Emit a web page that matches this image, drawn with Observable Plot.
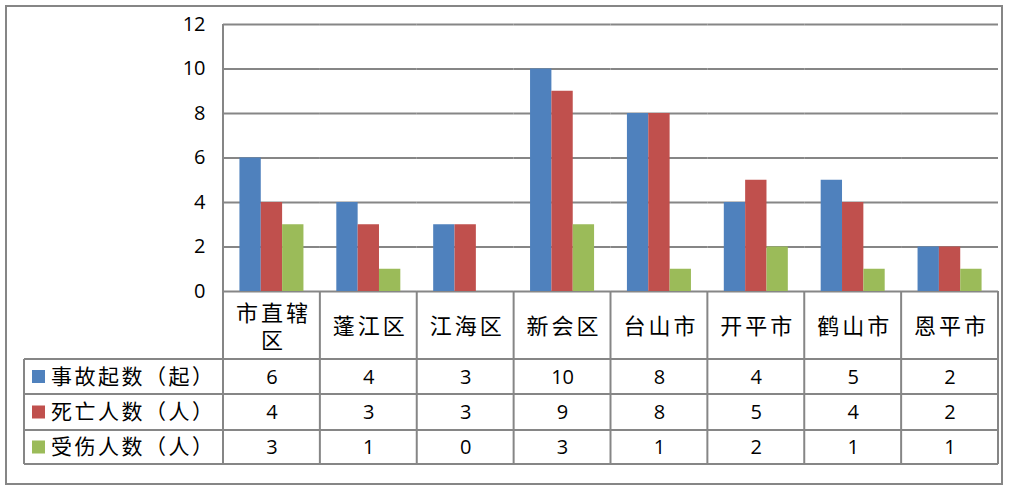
<!DOCTYPE html>
<html><head><meta charset="utf-8">
<script src="https://cdn.jsdelivr.net/npm/d3@7"></script>
<script src="https://cdn.jsdelivr.net/npm/@observablehq/plot@0.6"></script>
<style>
body{margin:0;background:#fff;}
#chart{width:1010px;height:490px;}
</style></head><body><div id="chart"></div>
<script>
const categories = ["市直辖区","蓬江区","江海区","新会区","台山市","开平市","鹤山市","恩平市"];
const seriesNames = ["事故起数（起）","死亡人数（人）","受伤人数（人）"];
const accidents = [6,4,3,10,8,4,5,2];
const deaths = [4,3,3,9,8,5,4,2];
const injuries = [3,1,0,3,1,2,1,1];
const yTicks = [0,2,4,6,8,10,12];
const colors = ["#4F81BD","#C0504D","#9BBB59"];

const seriesValues = [accidents, deaths, injuries];
const rows = [];
categories.forEach((c,i)=>seriesNames.forEach((s,j)=>rows.push({cat:c, series:s, value:seriesValues[j][i]})));

const W=1010,H=490,mL=223,mR=12,mT=24,mB=199;
const font = "'Open Sans','Noto Sans CJK SC',sans-serif";
const cjk = "'Noto Sans CJK SC',sans-serif";
const grid = "#868686";
const labelDy = 34;
const rowEdges = [359,394,430,464];
const rowDy = [86,121,156];
const wrapLabel = d => d.length > 3 ? d.slice(0,3) + "\n" + d.slice(3) : d;

const chart = Plot.plot({
  width:W, height:H, marginLeft:mL, marginRight:mR, marginTop:mT, marginBottom:mB,
  style:{fontFamily:font, fontSize:"20px", color:"#000", background:"#fff", overflow:"visible"},
  fx:{domain:categories, padding:0, axis:null, label:null, round:false},
  x:{domain:seriesNames, paddingInner:0, paddingOuter:0.77, axis:null, round:false},
  y:{domain:[0,12], ticks:yTicks, tickSize:0, tickPadding:18, label:null, axis:"left"},
  color:{domain:seriesNames, range:colors},
  marks:[
    Plot.ruleY(yTicks, {stroke:grid, strokeWidth:2, strokeOpacity:1}),
    Plot.barY(rows, {fx:"cat", x:"series", y:"value", fill:"series"}),
    Plot.text(categories, {fx:d=>d, text:wrapLabel, frameAnchor:"bottom", lineAnchor:"middle", dy:labelDy, dx:1.5, fontSize:22, lineHeight:1.23, fontFamily:cjk}),
    ...seriesValues.map((vals,j)=>Plot.text(categories.map((c,i)=>({cat:c, v:vals[i]})), {fx:"cat", text:"v", frameAnchor:"bottom", lineAnchor:"middle", dy:rowDy[j], fontSize:20}))
  ]
});
document.getElementById("chart").appendChild(chart);

const svg = d3.select(chart);
svg.selectAll('g[aria-label^="y-axis"] text').attr("font-size", 20).attr("fill", "#000");
svg.selectAll("text").filter(function(){ return /[\u4e00-\u9fff]/.test(this.textContent); })
  .style("letter-spacing", "3px");

// table grid, legend column and outer border
const fxs = chart.scale("fx");
const ys = chart.scale("y");
const r0 = fxs.range[0], r1 = fxs.range[1];
const step = (r1 - r0) / categories.length;
const yTop = ys.apply ? ys.apply(12) : mT;
const yBase = ys.apply ? ys.apply(0) : H - mB;
const g = svg.append("g").attr("stroke", grid).attr("stroke-width", 2).attr("fill", "none");
const tableLeft = 24;
rowEdges.forEach(y => g.append("line").attr("x1", tableLeft).attr("x2", r1).attr("y1", y).attr("y2", y));
g.append("line").attr("x1", tableLeft).attr("x2", tableLeft).attr("y1", rowEdges[0]).attr("y2", rowEdges[3]);
for (let k = 0; k <= categories.length; k++) {
  const x = r0 + k * step;
  g.append("line").attr("x1", x).attr("x2", x).attr("y1", k === 0 ? yTop : yBase).attr("y2", rowEdges[3]);
}
g.append("rect").attr("x", 6).attr("y", 6).attr("width", 996).attr("height", 478);

const lg = svg.append("g").attr("text-anchor", "start");
seriesNames.forEach((s, j) => {
  const cy = (rowEdges[j] + rowEdges[j+1]) / 2;
  lg.append("rect").attr("x", 32).attr("y", cy - 6.5).attr("width", 13).attr("height", 13).attr("fill", colors[j]);
  lg.append("text").attr("x", 51).attr("y", cy).attr("dy", "0.35em").attr("text-anchor", "start")
    .attr("font-size", 21).attr("font-family", cjk).attr("fill", "#000")
    .style("letter-spacing", "2.5px").text(s);
});
</script></body></html>
